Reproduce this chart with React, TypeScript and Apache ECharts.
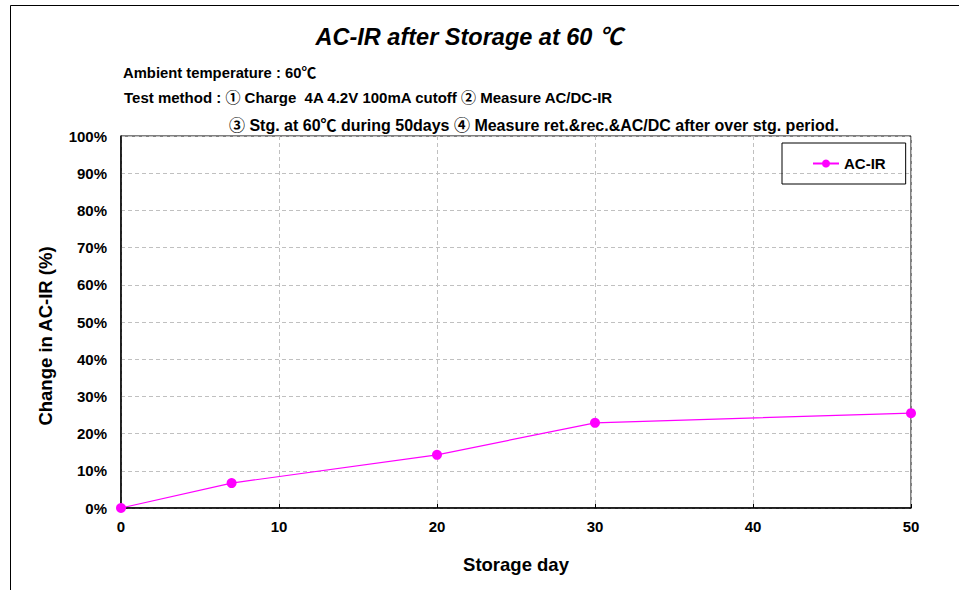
import React, { useEffect, useRef } from "react";
import * as echarts from "echarts";

const days = [0, 7, 20, 30, 50];
const acIr = [0, 6.7, 14.3, 22.9, 25.5];
const seriesName = "AC-IR";
const titleText = "AC-IR after Storage at 60 ℃";
const noteLines = [
  "Ambient temperature : 60℃",
  "Test method : ① Charge  4A 4.2V 100mA cutoff ② Measure AC/DC-IR",
  "③ Stg. at 60℃ during 50days ④ Measure ret.&rec.&AC/DC after over stg. period.",
];
const xName = "Storage day";
const yName = "Change in AC-IR (%)";

const FONT = "'Liberation Sans', Arial, 'Noto Sans CJK KR', 'DejaVu Sans', sans-serif";

export default function App() {
  const ref = useRef<HTMLDivElement>(null);
  useEffect(() => {
    if (!ref.current) return;
    const chart = echarts.init(ref.current, null, { renderer: "svg" });
    chart.setOption({
      animation: false,
      backgroundColor: "#ffffff",
      textStyle: { fontFamily: FONT },
      title: {
        text: titleText,
        left: 464,
        top: 20,
        textAlign: "center",
        textStyle: { fontFamily: FONT, fontSize: 23.5, fontWeight: "bold", fontStyle: "italic", color: "#000" },
      },
      graphic: [
        {
          type: "rect",
          shape: { x: 10.5, y: 5.5, width: 1000, height: 700 },
          style: { fill: "none", stroke: "#000", lineWidth: 1 },
          silent: true,
        },
        {
          type: "text",
          left: 123,
          top: 66,
          style: { text: noteLines[0], fontFamily: FONT, fontSize: 14.8, fontWeight: "bold", fill: "#000" },
        },
        {
          type: "text",
          left: 124,
          top: 90,
          style: { text: noteLines[1], fontFamily: FONT, fontSize: 15, fontWeight: "bold", fill: "#000" },
        },
        {
          type: "text",
          left: 229,
          top: 117,
          style: { text: noteLines[2], fontFamily: FONT, fontSize: 16, fontWeight: "bold", fill: "#000" },
        },
        {
          type: "text",
          x: 45,
          y: 336,
          rotation: Math.PI / 2,
          style: {
            text: yName,
            fontFamily: FONT,
            fontSize: 18.5,
            fontWeight: "bold",
            fill: "#000",
            align: "center",
            verticalAlign: "middle",
          },
        },
      ],
      legend: {
        show: true,
        left: 782,
        top: 143,
        padding: [13, 20, 13, 30],
        borderColor: "#000",
        borderWidth: 1,
        borderRadius: 0,
        itemWidth: 26,
        itemHeight: 10,
        textStyle: { fontFamily: FONT, fontSize: 15, fontWeight: "bold", color: "#000" },
        data: [seriesName],
      },
      grid: { left: 121, right: 48, top: 136, bottom: 82, show: true, borderColor: "#000", borderWidth: 1 },
      xAxis: {
        type: "value",
        min: 0,
        max: 50,
        interval: 10,
        name: xName,
        nameLocation: "middle",
        nameGap: 47,
        nameTextStyle: { fontFamily: FONT, fontSize: 18.5, fontWeight: "bold", color: "#000" },
        axisLine: { show: true, lineStyle: { color: "#000", width: 1.5 } },
        axisTick: { show: true, inside: true, length: 4, lineStyle: { color: "#000" } },
        axisLabel: { margin: 11, fontFamily: FONT, fontSize: 15, fontWeight: "bold", color: "#000" },
        splitLine: { show: true, lineStyle: { color: "#c0c0c0", type: [4, 3], width: 1 } },
      },
      yAxis: {
        type: "value",
        min: 0,
        max: 100,
        interval: 10,
        axisLine: { show: true, lineStyle: { color: "#000", width: 1.5 } },
        axisTick: { show: false },
        axisLabel: { margin: 14, formatter: "{value}%", fontFamily: FONT, fontSize: 15, fontWeight: "bold", color: "#000" },
        splitLine: { show: true, lineStyle: { color: "#c0c0c0", type: [4, 3], width: 1 } },
      },
      series: [
        {
          name: seriesName,
          type: "line",
          data: days.map((d, i) => [d, acIr[i]]),
          symbol: "circle",
          symbolSize: 10,
          itemStyle: { color: "#ff00ff" },
          lineStyle: { color: "#ff00ff", width: 1.2 },
          clip: false,
          z: 5,
        },
      ],
    });
    return () => chart.dispose();
  }, []);
  return (
    <div
      ref={ref}
      style={{ position: "absolute", left: 0, top: 0, width: 959, height: 590 }}
    />
  );
}
